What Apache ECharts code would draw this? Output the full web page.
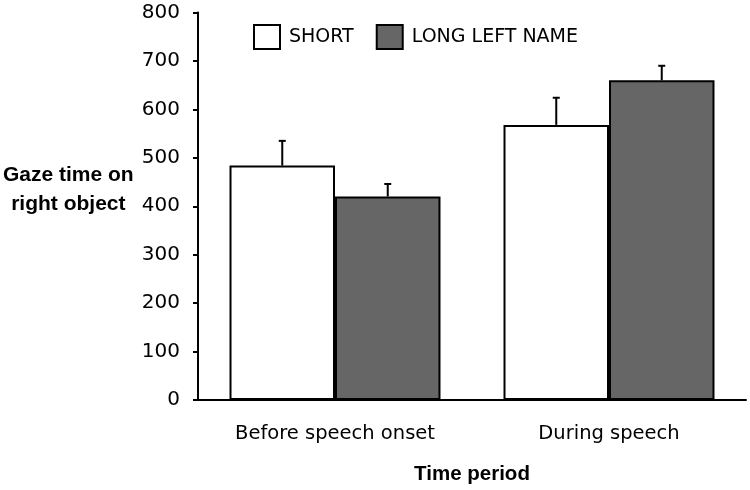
<!DOCTYPE html>
<html><head><meta charset="utf-8">
<script src="https://cdn.jsdelivr.net/npm/echarts@6/dist/echarts.min.js"></script>
<style>html,body{margin:0;padding:0;background:#fff}#c{width:750px;height:490px}</style>
</head><body><div id="c"></div>
<script>
const categories = ['Before speech onset', 'During speech'];
const seriesNames = ['SHORT', 'LONG LEFT NAME'];
const shortValues = [484, 568];
const longValues = [420, 660];
const shortErrTop = [535, 624];
const longErrTop = [446, 690];
const yTicks = [0, 100, 200, 300, 400, 500, 600, 700, 800];

const FONT = 'DejaVu Sans';
const BFONT = 'Liberation Sans';
const GAP = 0.23;
const chart = echarts.init(document.getElementById('c'), null, {renderer: 'canvas'});

function errSeries(idx, vals, tops) {
  return {
    type: 'custom',
    name: 'err' + idx,
    z: 1,
    data: vals.map((v, i) => [i, v, tops[i]]),
    renderItem: function (params, api) {
      const band = api.size([1, 0])[0];
      const bw = band * (1 - GAP) / 2;
      const off = idx === 0 ? -bw / 2 : bw / 2;
      const p0 = api.coord([api.value(0), api.value(1)]);
      const p1 = api.coord([api.value(0), api.value(2)]);
      const x = p0[0] + off;
      return {
        type: 'group',
        children: [
          {type: 'line', shape: {x1: x, y1: p0[1], x2: x, y2: p1[1]}, style: {stroke: '#000', lineWidth: 2}},
          {type: 'line', shape: {x1: x - 3.5, y1: p1[1], x2: x + 3.5, y2: p1[1]}, style: {stroke: '#000', lineWidth: 2}}
        ]
      };
    }
  };
}

chart.setOption({
  animation: false,
  backgroundColor: '#fff',
  textStyle: {fontFamily: FONT},
  grid: {left: 198, right: 4, top: 12.5, bottom: 85, containLabel: false},
  legend: {
    data: seriesNames,
    left: 253, top: 24, padding: 0,
    itemWidth: 26, itemHeight: 24,
    itemGap: 22,
    icon: 'rect',
    textStyle: {fontFamily: FONT, fontSize: 19, color: '#000', padding: [0, 0, 0, 4]}
  },
  graphic: [{
    type: 'text', left: 3, top: 161,
    style: {text: 'Gaze time on\nright object', font: 'bold 21px "' + BFONT + '"', fill: '#000', textAlign: 'center', lineHeight: 29}
  }],
  xAxis: {
    type: 'category', data: categories,
    name: 'Time period', nameLocation: 'middle', nameGap: 64,
    nameTextStyle: {fontFamily: BFONT, fontSize: 20.5, fontWeight: 'bold', color: '#000'},
    axisLine: {lineStyle: {color: '#000', width: 2}},
    axisTick: {show: false},
    axisLabel: {fontFamily: FONT, fontSize: 19.5, color: '#000', margin: 24}
  },
  yAxis: {
    type: 'value', min: 0, max: 800, interval: 100,
    axisLine: {show: true, lineStyle: {color: '#000', width: 2}},
    axisTick: {show: true, length: 5, lineStyle: {color: '#000', width: 2}},
    splitLine: {show: false},
    axisLabel: {fontFamily: FONT, fontSize: 20, color: '#000', margin: 18,
      formatter: v => yTicks.includes(v) ? String(v) : ''}
  },
  series: [
    {type: 'bar', name: seriesNames[0], data: shortValues, barGap: '0%', barCategoryGap: '23%', z: 2,
     itemStyle: {color: '#fff', borderColor: '#000', borderWidth: 2}},
    {type: 'bar', name: seriesNames[1], data: longValues, barGap: '0%', barCategoryGap: '23%', z: 2,
     itemStyle: {color: '#666666', borderColor: '#000', borderWidth: 2}},
    errSeries(0, shortValues, shortErrTop),
    errSeries(1, longValues, longErrTop)
  ]
});
</script></body></html>
